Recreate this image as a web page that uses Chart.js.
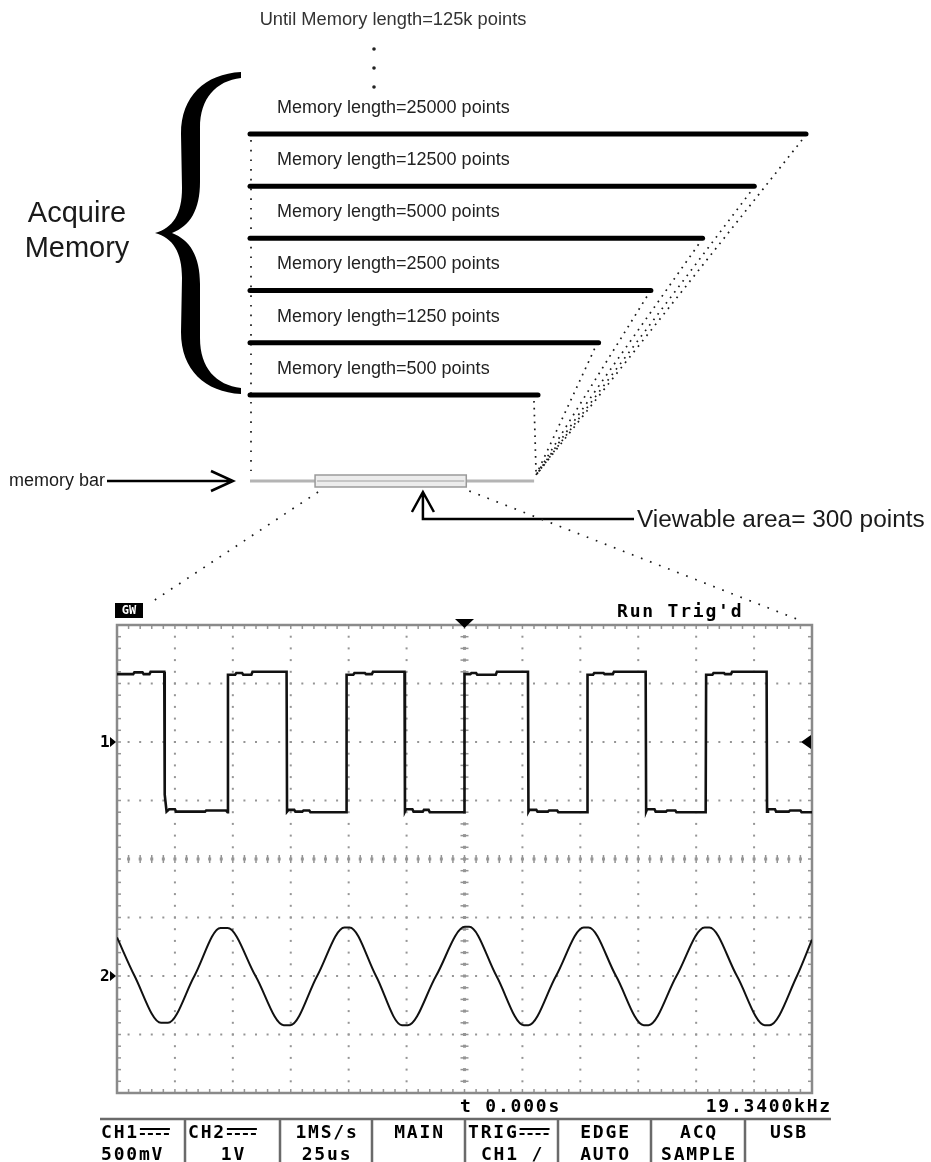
<!DOCTYPE html>
<html>
<head>
<meta charset="utf-8">
<script src="https://cdn.jsdelivr.net/npm/chart.js@4.4.1/dist/chart.umd.min.js"></script>
<style>
  body { margin: 0; background: #fff; }
  #wrap { position: relative; width: 931px; height: 1162px; overflow: hidden; }
  #wrap canvas { position: absolute; left: 0; top: 0; }
</style>
</head>
<body>
<div id="wrap">
  <canvas id="memoryChart" width="931" height="1162"></canvas>
  <canvas id="scopeChart" width="931" height="1162"></canvas>
</div>
<script>
// acquire memory diagram
const memoryLengths = [25000, 12500, 5000, 2500, 1250, 500];
const barLengths = [1.00, 0.907, 0.814, 0.721, 0.627, 0.518]; // drawn length, relative to the 25000 bar
const memoryBarSpan = [0, 0.511];
const viewableSpan = [0.117, 0.389];
const viewablePoints = 300;
const topLabel = 'Until Memory length=125k points';

// scope screen, CH1 square wave (us, V)
const ch1Time = [-150, -143, -142.5, -139, -138.5, -136, -135.5, -129.6, -129.4, -128.6, -127.5, -125, -124.5, -112, -111.5, -103, -102.3,
  -102.1, -99, -98.5, -96, -95.5, -92, -91.5, -76.8, -76.6, -76, -73.5, -73, -70, -69.5, -67, -66.5, -51.1,
  -50.9, -48, -47.5, -43, -42.5, -40, -39.5, -25.9, -25.7, -25.2, -22.5, -22, -18, -17.5, -15.5, -15, -0.2,
  0, 2.5, 3, 5, 5.5, 13.5, 14, 27.4, 27.6, 28, 31, 31.5, 36, 36.5, 40, 40.5, 52.9,
  53.1, 55.5, 56, 60, 60.5, 64, 64.5, 78.2, 78.4, 78.8, 82, 82.5, 87, 87.5, 91, 91.5, 104.1,
  104.3, 107, 107.5, 112, 112.5, 115, 115.5, 130.4, 130.6, 131, 134, 134.5, 140, 140.5, 145, 145.5, 150];
const ch1Volts = [0.58, 0.58, 0.595, 0.595, 0.58, 0.58, 0.60, 0.60, -0.45, -0.595, -0.575, -0.575, -0.595, -0.595, -0.585, -0.585, -0.60,
  0.575, 0.575, 0.59, 0.59, 0.575, 0.575, 0.60, 0.60, -0.595, -0.58, -0.58, -0.595, -0.595, -0.585, -0.585, -0.60, -0.60,
  0.575, 0.575, 0.59, 0.59, 0.58, 0.58, 0.60, 0.60, -0.595, -0.575, -0.575, -0.595, -0.595, -0.58, -0.58, -0.60, -0.60,
  0.58, 0.58, 0.59, 0.59, 0.575, 0.575, 0.60, 0.60, -0.595, -0.58, -0.58, -0.595, -0.595, -0.585, -0.585, -0.60, -0.60,
  0.575, 0.575, 0.59, 0.59, 0.58, 0.58, 0.60, 0.60, -0.595, -0.575, -0.575, -0.595, -0.595, -0.585, -0.585, -0.60, -0.60,
  0.575, 0.575, 0.59, 0.59, 0.58, 0.58, 0.60, 0.60, -0.595, -0.575, -0.575, -0.595, -0.595, -0.585, -0.585, -0.60, -0.60];

// CH2 sine (us, V)
const ch2Time = [-150, -142.4, -131, -128, -116.6, -105.3, -102.3, -90.2, -78, -75.2, -63.6, -51.8, -49.6, -38.2, -27, -24.4,
  -12.3, 0.2, 2, 13.8, 25.6, 27.6, 39.5, 51.5, 53.5, 65.4, 77.4, 79.4, 91.5, 103.7, 105.7, 117.6, 129.6, 131.6, 143.5, 150];
const ch2Volts = [0.66, 0.00, -0.80, -0.80, 0.00, 0.82, 0.82, 0.00, -0.84, -0.84, 0.00, 0.83, 0.83, 0.00, -0.84, -0.84,
  0.00, 0.84, 0.84, 0.00, -0.84, -0.84, 0.00, 0.83, 0.83, 0.00, -0.84, -0.84, 0.00, 0.83, 0.83, 0.00, -0.84, -0.84, 0.00, 0.62];

const ch1Scale = 0.5, ch1Offset = 2;   // 500mV/div, trace 1 two divisions up
const ch2Scale = 1, ch2Offset = -2;    // 1V/div
const statusTop = ['CH1', 'CH2', '1MS/s', 'MAIN', 'TRIG', 'EDGE', 'ACQ', 'USB'];
const statusBottom = ['500mV', '1V', '25us', '', 'CH1 /', 'AUTO', 'SAMPLE', ''];
const dcCoupled = [true, true, false, false, true, false, false, false];
const readoutTime = 't 0.000s';
const readoutFreq = '19.3400kHz';

const SANS = '"Liberation Sans", Arial, sans-serif';
const MONO = '"DejaVu Sans Mono", monospace';
const MEM_ROW = 6.65;

function dotted(ctx, x1, y1, x2, y2, gap) {
  ctx.save();
  ctx.setLineDash([1.7, gap]);
  ctx.lineWidth = 1.7;
  ctx.strokeStyle = '#1a1a1a';
  ctx.beginPath();
  ctx.moveTo(x1, y1);
  ctx.lineTo(x2, y2);
  ctx.stroke();
  ctx.restore();
}

function drawBrace(ctx) {
  ctx.beginPath();
  ctx.moveTo(241, 72);
  ctx.bezierCurveTo(205, 74, 181, 96, 181, 134);
  ctx.lineTo(182, 188);
  ctx.bezierCurveTo(182, 214, 173, 228, 155, 233);
  ctx.bezierCurveTo(173, 238, 182, 252, 182, 278);
  ctx.lineTo(181, 332);
  ctx.bezierCurveTo(181, 370, 205, 392, 241, 394);
  ctx.lineTo(241, 388);
  ctx.bezierCurveTo(216, 385, 200, 368, 200, 338);
  ctx.lineTo(200, 284);
  ctx.bezierCurveTo(200, 256, 190, 240, 172, 233);
  ctx.bezierCurveTo(190, 226, 200, 210, 200, 182);
  ctx.lineTo(200, 128);
  ctx.bezierCurveTo(200, 98, 216, 81, 241, 78);
  ctx.closePath();
  ctx.fillStyle = '#000';
  ctx.fill();
}

const memoryDecor = {
  id: 'memoryDecor',
  beforeDatasetsDraw(chart) {
    const {ctx, scales: {x, y}} = chart;
    const endX = x.getPixelForValue(memoryBarSpan[1]) + 2;
    const endY = y.getPixelForValue(MEM_ROW) - 6;
    // fan of dotted lines from each bar end down to the memory bar
    barLengths.forEach((len, i) => {
      dotted(ctx, x.getPixelForValue(len) - 4, y.getPixelForValue(i) + 6, endX, endY, 5.2);
    });
    dotted(ctx, x.getPixelForValue(0) + 1, y.getPixelForValue(0) + 6, x.getPixelForValue(0) + 1, endY - 4, 8);
  },
  afterDatasetsDraw(chart) {
    const {ctx, scales: {x, y}} = chart;
    ctx.save();
    ctx.textBaseline = 'middle';
    ctx.fillStyle = '#222';
    ctx.font = '18px ' + SANS;
    ctx.textAlign = 'left';
    chart.data.datasets.forEach((ds, i) => {
      if (i >= memoryLengths.length) return;
      ctx.fillText(ds.label, x.getPixelForValue(0) + 27, y.getPixelForValue(i - 0.5));
    });
    ctx.textAlign = 'center';
    ctx.fillStyle = '#333';
    ctx.font = '18.3px ' + SANS;
    ctx.fillText(topLabel, 393, 20);
    ctx.fillStyle = '#222';
    [49, 68, 87].forEach(py => { ctx.beginPath(); ctx.arc(374, py, 1.8, 0, Math.PI * 2); ctx.fill(); });

    // brace and caption
    drawBrace(ctx);
    ctx.fillStyle = '#1a1a1a';
    ctx.font = '29px ' + SANS;
    ctx.fillText('Acquire', 77, 214);
    ctx.fillText('Memory', 77, 249);

    // viewable window on the memory bar
    const my = y.getPixelForValue(MEM_ROW);
    const wl = x.getPixelForValue(viewableSpan[0]);
    const wr = x.getPixelForValue(viewableSpan[1]);
    ctx.fillStyle = '#ececec';
    ctx.fillRect(wl, my - 6, wr - wl, 12);
    ctx.strokeStyle = '#9a9a9a';
    ctx.lineWidth = 1.5;
    ctx.strokeRect(wl, my - 6, wr - wl, 12);
    ctx.beginPath();
    ctx.moveTo(wl + 2, my);
    ctx.lineTo(wr - 2, my);
    ctx.strokeStyle = '#b8b8b8';
    ctx.stroke();

    // "memory bar" pointer
    ctx.strokeStyle = '#000';
    ctx.lineWidth = 2.5;
    ctx.beginPath();
    ctx.moveTo(107, my);
    ctx.lineTo(233, my);
    ctx.moveTo(211, my - 10);
    ctx.lineTo(233, my);
    ctx.lineTo(211, my + 10);
    ctx.stroke();
    ctx.fillStyle = '#1a1a1a';
    ctx.textAlign = 'left';
    ctx.font = '18px ' + SANS;
    ctx.fillText('memory bar', 9, my);

    // viewable area pointer
    const ax = x.getPixelForValue(0.311);
    ctx.beginPath();
    ctx.moveTo(ax, my + 11);
    ctx.lineTo(ax, my + 38);
    ctx.lineTo(634, my + 38);
    ctx.moveTo(ax - 11, my + 31);
    ctx.lineTo(ax, my + 11);
    ctx.lineTo(ax + 11, my + 31);
    ctx.stroke();
    ctx.font = '24.4px ' + SANS;
    ctx.fillText('Viewable area= ' + viewablePoints + ' points', 637, my + 39);
    ctx.restore();
  }
};

const memoryChart = new Chart(document.getElementById('memoryChart'), {
  type: 'line',
  data: {
    datasets: memoryLengths.map((m, i) => ({
      label: 'Memory length=' + m + ' points',
      data: [{x: 0, y: i}, {x: barLengths[i], y: i}],
      borderColor: '#000',
      borderWidth: 5,
      borderCapStyle: 'round',
      clip: false
    })).concat([{
      label: 'memory bar',
      data: [{x: memoryBarSpan[0], y: MEM_ROW}, {x: memoryBarSpan[1], y: MEM_ROW}],
      borderColor: '#b4b4b4',
      borderWidth: 3,
      clip: false
    }])
  },
  options: {
    responsive: false,
    animation: false,
    layout: {padding: {left: 250, right: 125, top: 134, bottom: 1162 - 481}},
    elements: {point: {radius: 0}, line: {tension: 0}},
    scales: {
      x: {type: 'linear', min: 0, max: 1, display: false},
      y: {type: 'linear', min: 0, max: MEM_ROW, reverse: true, display: false}
    },
    plugins: {legend: {display: false}, tooltip: {enabled: false}}
  },
  plugins: [memoryDecor]
});

function dcSymbol(ctx, x0, y0) {
  ctx.fillRect(x0, y0 - 4, 30, 2);
  for (let k = 0; k < 4; k++) ctx.fillRect(x0 + k * 8, y0 + 1, 5, 2);
}

const scopeDecor = {
  id: 'scopeDecor',
  beforeDatasetsDraw(chart) {
    const {ctx, chartArea: a, scales: {x, y}} = chart;
    ctx.save();
    ctx.fillStyle = '#959595';
    // vertical division lines
    for (let t = -125; t <= 125; t += 25) {
      const px = x.getPixelForValue(t);
      for (let k = 1; k < 40; k++) {
        const py = y.getPixelForValue(-4 + k * 0.2);
        if (t === 0) {
          ctx.fillRect(px - 4, py - 0.75, 8, 1.5);
          ctx.fillRect(px - 1.5, py - 1.5, 3, 3);
        } else {
          ctx.fillRect(px - 1, py - 1, 2, 2);
        }
      }
    }
    // horizontal division lines
    for (let v = -3; v <= 3; v++) {
      const py = y.getPixelForValue(v);
      for (let k = 1; k < 60; k++) {
        const px = x.getPixelForValue(-150 + k * 5);
        if (v === 0) {
          ctx.fillRect(px - 0.75, py - 4, 1.5, 8);
          ctx.fillRect(px - 1.5, py - 1.5, 3, 3);
        } else {
          ctx.fillRect(px - 1, py - 1, 2, 2);
        }
      }
    }
    // ticks along the frame
    for (let k = 1; k < 60; k++) {
      const px = x.getPixelForValue(-150 + k * 5);
      ctx.fillRect(px - 0.75, a.top, 1.5, 4);
      ctx.fillRect(px - 0.75, a.bottom - 4, 1.5, 4);
    }
    for (let k = 1; k < 40; k++) {
      const py = y.getPixelForValue(-4 + k * 0.2);
      ctx.fillRect(a.left, py - 0.75, 4, 1.5);
      ctx.fillRect(a.right - 4, py - 0.75, 4, 1.5);
    }
    ctx.strokeStyle = '#8a8a8a';
    ctx.lineWidth = 2.5;
    ctx.strokeRect(a.left, a.top, a.right - a.left, a.bottom - a.top);
    ctx.restore();
  },
  afterDatasetsDraw(chart) {
    const {ctx, chartArea: a, scales: {x, y}} = chart;
    ctx.save();
    ctx.fillStyle = '#000';
    // trigger position marker
    const tx = x.getPixelForValue(0);
    ctx.beginPath();
    ctx.moveTo(tx - 9.5, a.top - 6);
    ctx.lineTo(tx + 9.5, a.top - 6);
    ctx.lineTo(tx, a.top + 3);
    ctx.closePath();
    ctx.fill();
    // channel ground markers
    ctx.font = 'bold 16px ' + MONO;
    ctx.textBaseline = 'middle';
    ctx.textAlign = 'left';
    [[ch1Offset, '1'], [ch2Offset, '2']].forEach(([off, name]) => {
      const py = y.getPixelForValue(off);
      ctx.fillText(name, a.left - 17, py + 1);
      ctx.beginPath();
      ctx.moveTo(a.left - 7, py - 5);
      ctx.lineTo(a.left - 1, py);
      ctx.lineTo(a.left - 7, py + 5);
      ctx.closePath();
      ctx.fill();
    });
    // trigger level marker
    const ly = y.getPixelForValue(ch1Offset);
    ctx.beginPath();
    ctx.moveTo(a.right - 11, ly);
    ctx.lineTo(a.right - 1, ly - 7);
    ctx.lineTo(a.right - 1, ly + 7);
    ctx.closePath();
    ctx.fill();

    // logo and run state
    ctx.fillRect(a.left - 2, a.top - 22, 28, 15);
    ctx.fillStyle = '#fff';
    ctx.font = 'bold 12px ' + MONO;
    ctx.textAlign = 'center';
    ctx.fillText('GW', a.left + 12, a.top - 14);
    ctx.fillStyle = '#000';
    ctx.font = 'bold 18px ' + MONO;
    ctx.letterSpacing = '1.8px';
    ctx.textAlign = 'left';
    ctx.fillText("Run Trig'd", 617, a.top - 13);

    // readouts under the screen
    ctx.fillText(readoutTime, 460, a.bottom + 14);
    ctx.textAlign = 'right';
    ctx.fillText(readoutFreq, 832, a.bottom + 14);

    // status bar
    const edges = [100, 185, 280, 372, 465, 558, 651, 745, 831];
    const sy = a.bottom + 26;
    ctx.strokeStyle = '#6a6a6a';
    ctx.lineWidth = 2.5;
    ctx.beginPath();
    ctx.moveTo(edges[0], sy);
    ctx.lineTo(edges[8], sy);
    for (let i = 1; i < 8; i++) {
      ctx.moveTo(edges[i], sy);
      ctx.lineTo(edges[i], 1162);
    }
    ctx.stroke();
    statusTop.forEach((label, i) => {
      const l = edges[i], r = edges[i + 1];
      if (dcCoupled[i]) {
        ctx.textAlign = 'left';
        ctx.fillText(label, l + (i === 0 ? 1 : 3), sy + 14);
        dcSymbol(ctx, l + (i === 0 ? 1 : 3) + ctx.measureText(label).width + 1, sy + 13);
      } else {
        ctx.textAlign = 'center';
        ctx.fillText(label, (l + r) / 2 + 1, sy + 14);
      }
      const bottom = statusBottom[i];
      if (bottom) {
        if (i === 0) {
          ctx.textAlign = 'left';
          ctx.fillText(bottom, l + 1, sy + 36);
        } else {
          ctx.textAlign = 'center';
          ctx.fillText(bottom, (l + r) / 2 + 1, sy + 36);
        }
      }
    });
    ctx.letterSpacing = '0px';

    // dotted guides from the viewable window to the screen corners
    const mx = memoryChart.scales.x, my = memoryChart.scales.y.getPixelForValue(MEM_ROW);
    const sl = [mx.getPixelForValue(viewableSpan[0]) + 3, my + 11];
    const sr = [mx.getPixelForValue(viewableSpan[1]) + 3, my + 10];
    const fl = (a.top - 22 - sl[1]) / (a.top - sl[1]);
    dotted(ctx, sl[0], sl[1], sl[0] + (a.left - sl[0]) * fl, sl[1] + (a.top - sl[1]) * fl, 8);
    const fr = (a.top - 6 - sr[1]) / (a.top - sr[1]);
    dotted(ctx, sr[0], sr[1], sr[0] + (a.right - sr[0]) * fr, sr[1] + (a.top - sr[1]) * fr, 8);
    ctx.restore();
  }
};

new Chart(document.getElementById('scopeChart'), {
  type: 'line',
  data: {
    datasets: [{
      label: 'CH1',
      data: ch1Time.map((t, i) => ({x: t, y: ch1Offset + ch1Volts[i] / ch1Scale})),
      borderColor: '#111',
      borderWidth: 2.6,
      tension: 0
    }, {
      label: 'CH2',
      data: ch2Time.map((t, i) => ({x: t, y: ch2Offset + ch2Volts[i] / ch2Scale})),
      borderColor: '#111',
      borderWidth: 2,
      cubicInterpolationMode: 'monotone'
    }]
  },
  options: {
    responsive: false,
    animation: false,
    layout: {padding: {left: 117, top: 625, right: 931 - 812, bottom: 1162 - 1093}},
    elements: {point: {radius: 0}},
    scales: {
      x: {type: 'linear', min: -150, max: 150, display: false},
      y: {type: 'linear', min: -4, max: 4, display: false}
    },
    plugins: {legend: {display: false}, tooltip: {enabled: false}}
  },
  plugins: [scopeDecor]
});
</script>
</body>
</html>
